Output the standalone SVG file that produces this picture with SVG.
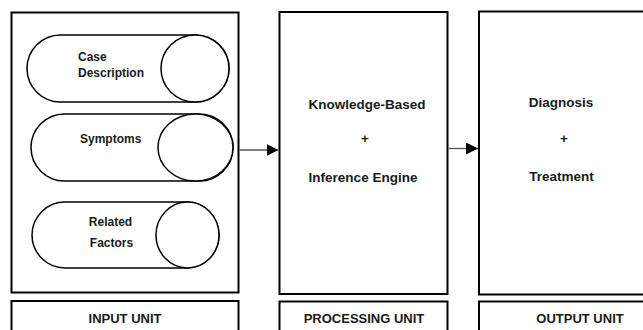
<svg xmlns="http://www.w3.org/2000/svg" width="643" height="330" viewBox="0 0 643 330">
<style>
.box{fill:#fff;stroke:#000;stroke-width:2}
.pill{fill:#fff;stroke:#000;stroke-width:1.5}
.t{font-family:"Liberation Sans",Arial,sans-serif;font-weight:bold;fill:#1a1a1a}
.s12{font-size:12px}
.s13{font-size:13.5px}
.lab{font-size:13px;text-anchor:middle}
.conn{stroke:#555;stroke-width:1.3;fill:none}
</style>
<defs>
<marker id="ah" markerWidth="12" markerHeight="12" refX="12" refY="6" orient="auto" markerUnits="userSpaceOnUse">
<path d="M0,0 L12,6 L0,12 Z" fill="#000"/>
</marker>
</defs>
<rect width="643" height="330" fill="#fff"/>
<g id="input-unit">
<rect class="box" x="11.5" y="12.5" width="227" height="280"/>
<g id="case-description">
<rect class="pill" x="27" y="35" width="202" height="67" rx="33.5"/>
<ellipse class="pill" cx="195" cy="68.5" rx="34" ry="33.5"/>
<text class="t s12" x="78" y="61">Case</text>
<text class="t s12" x="78" y="77">Description</text>
</g>
<g id="symptoms">
<rect class="pill" x="31" y="114" width="202" height="67" rx="33.5"/>
<ellipse class="pill" cx="195.5" cy="147.5" rx="37.5" ry="33.5"/>
<text class="t s12" x="80" y="143">Symptoms</text>
</g>
<g id="related-factors">
<rect class="pill" x="32" y="202" width="187" height="66" rx="33"/>
<ellipse class="pill" cx="187.5" cy="235" rx="31.5" ry="33"/>
<text class="t s12" x="110.5" y="226" text-anchor="middle">Related</text>
<text class="t s12" x="111.5" y="246.5" text-anchor="middle">Factors</text>
</g>
</g>
<g id="input-label">
<rect class="box" x="11.5" y="301" width="227" height="40"/>
<text class="t lab" x="125" y="323">INPUT UNIT</text>
</g>
<g id="processing-unit">
<rect class="box" x="279.5" y="12" width="168" height="282"/>
<text class="t s13" x="367" y="108.5" text-anchor="middle">Knowledge-Based</text>
<text class="t s13" x="365" y="143" text-anchor="middle">+</text>
<text class="t s13" x="363" y="181.5" text-anchor="middle">Inference Engine</text>
</g>
<g id="processing-label">
<rect class="box" x="279.5" y="301.5" width="168" height="40"/>
<text class="t lab" x="364" y="323">PROCESSING UNIT</text>
</g>
<g id="output-unit">
<rect class="box" x="479" y="11.5" width="210" height="283"/>
<text class="t s13" x="561" y="106.5" text-anchor="middle">Diagnosis</text>
<text class="t s13" x="564" y="143" text-anchor="middle">+</text>
<text class="t s13" x="561.5" y="181" text-anchor="middle">Treatment</text>
</g>
<g id="output-label">
<rect class="box" x="479" y="301.5" width="210" height="40"/>
<text class="t lab" x="580" y="323">OUTPUT UNIT</text>
</g>
<g id="connectors">
<line class="conn" x1="239.5" y1="150" x2="278.5" y2="150" marker-end="url(#ah)"/>
<line class="conn" x1="448.5" y1="148.5" x2="478" y2="148.5" marker-end="url(#ah)"/>
</g>
</svg>
